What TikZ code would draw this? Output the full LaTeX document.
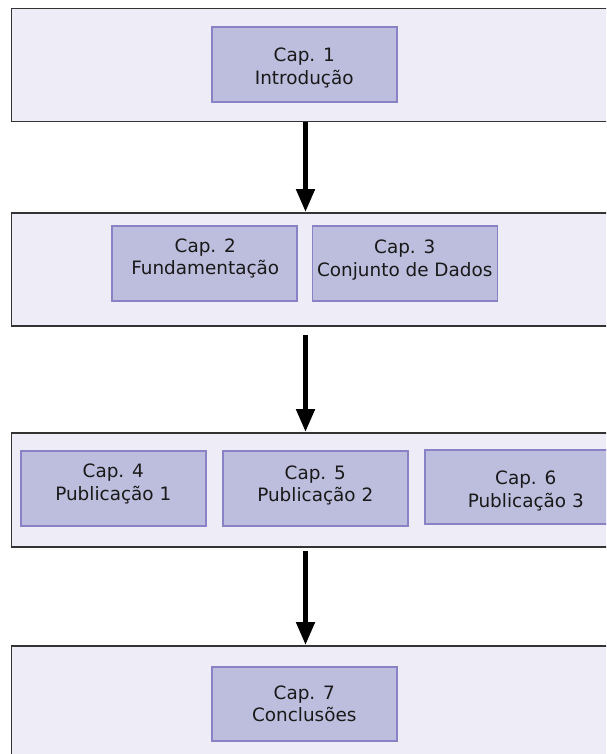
\documentclass[tikz,border=0pt]{standalone}
\usepackage{fontspec}
\setmainfont{DejaVu Sans}
\usetikzlibrary{arrows.meta,calc}
\definecolor{panelfill}{HTML}{EEECF6}
\definecolor{panelline}{HTML}{333333}
\definecolor{capfill}{HTML}{BDBDDD}
\definecolor{capline}{HTML}{8A82C6}
\begin{document}
\begin{tikzpicture}[x=1pt,y=-1pt,
  panel/.style={draw=panelline,fill=panelfill,line width=1.5pt,rectangle,
    anchor=north west,minimum width=620pt,inner sep=0pt},
  capbox/.style={draw=capline,fill=capfill,line width=1.5pt,rectangle,
    anchor=north west,minimum width=185pt,minimum height=75pt,inner sep=0pt},
  captext/.style={align=center,inner sep=0pt,
    font=\fontsize{18.4pt}{22.5pt}\selectfont,text=black!90},
  flow/.style={line width=5pt,-{Triangle[length=23pt,width=18pt]}}]
\useasboundingbox (0,0) rectangle (606,754);
\clip (0,0) rectangle (606,754);

% chapter groups
\node[panel,minimum height=113pt] (p1) at (10.5,8) {};
\node[panel,minimum height=113pt] (p2) at (10.5,212) {};
\node[panel,minimum height=114pt] (p3) at (10.5,432) {};
\node[panel,minimum height=120pt] (p4) at (10.5,645) {};

% chapters
\node[capbox] (c1) at (211,26.5) {};
\node[capbox] (c2) at (111,225) {};
\node[capbox] (c3) at (311.5,225) {};
\node[capbox] (c4) at (20,450) {};
\node[capbox] (c5) at (222,450) {};
\node[capbox,minimum width=202pt,minimum height=74pt] (c6) at (424,449) {};
\node[capbox,minimum height=74pt] (c7) at (211,666) {};

% chapter titles
\node[captext] (t1) at ($(c1.center)+(0,3)$) {Cap. 1\\Introdução};
\node[captext] (t2) at ($(c2.center)+(1,-5)$) {Cap. 2\\Fundamentação};
\node[captext] (t3) at ($(c3.center)+(0,-3)$) {Cap. 3\\Conjunto de Dados};
\node[captext] (t4) at ($(c4.center)+(0,-4.5)$) {Cap. 4\\Publicação 1};
\node[captext] (t5) at ($(c5.center)+(0,-3)$) {Cap. 5\\Publicação 2};
\node[captext] (t6) at ($(c6.center)+(0,4)$) {Cap. 6\\Publicação 3};
\node[captext] (t7) at (c7.center) {Cap. 7\\Conclusões};

% reading order
\coordinate (ax) at (305.5,0);
\draw[flow] (ax |- p1.south) -- (ax |- p2.north);
\draw[flow,shorten <=8pt] (ax |- p2.south) -- (ax |- p3.north);
\draw[flow,shorten <=3pt] (ax |- p3.south) -- (ax |- p4.north);
\end{tikzpicture}
\end{document}
